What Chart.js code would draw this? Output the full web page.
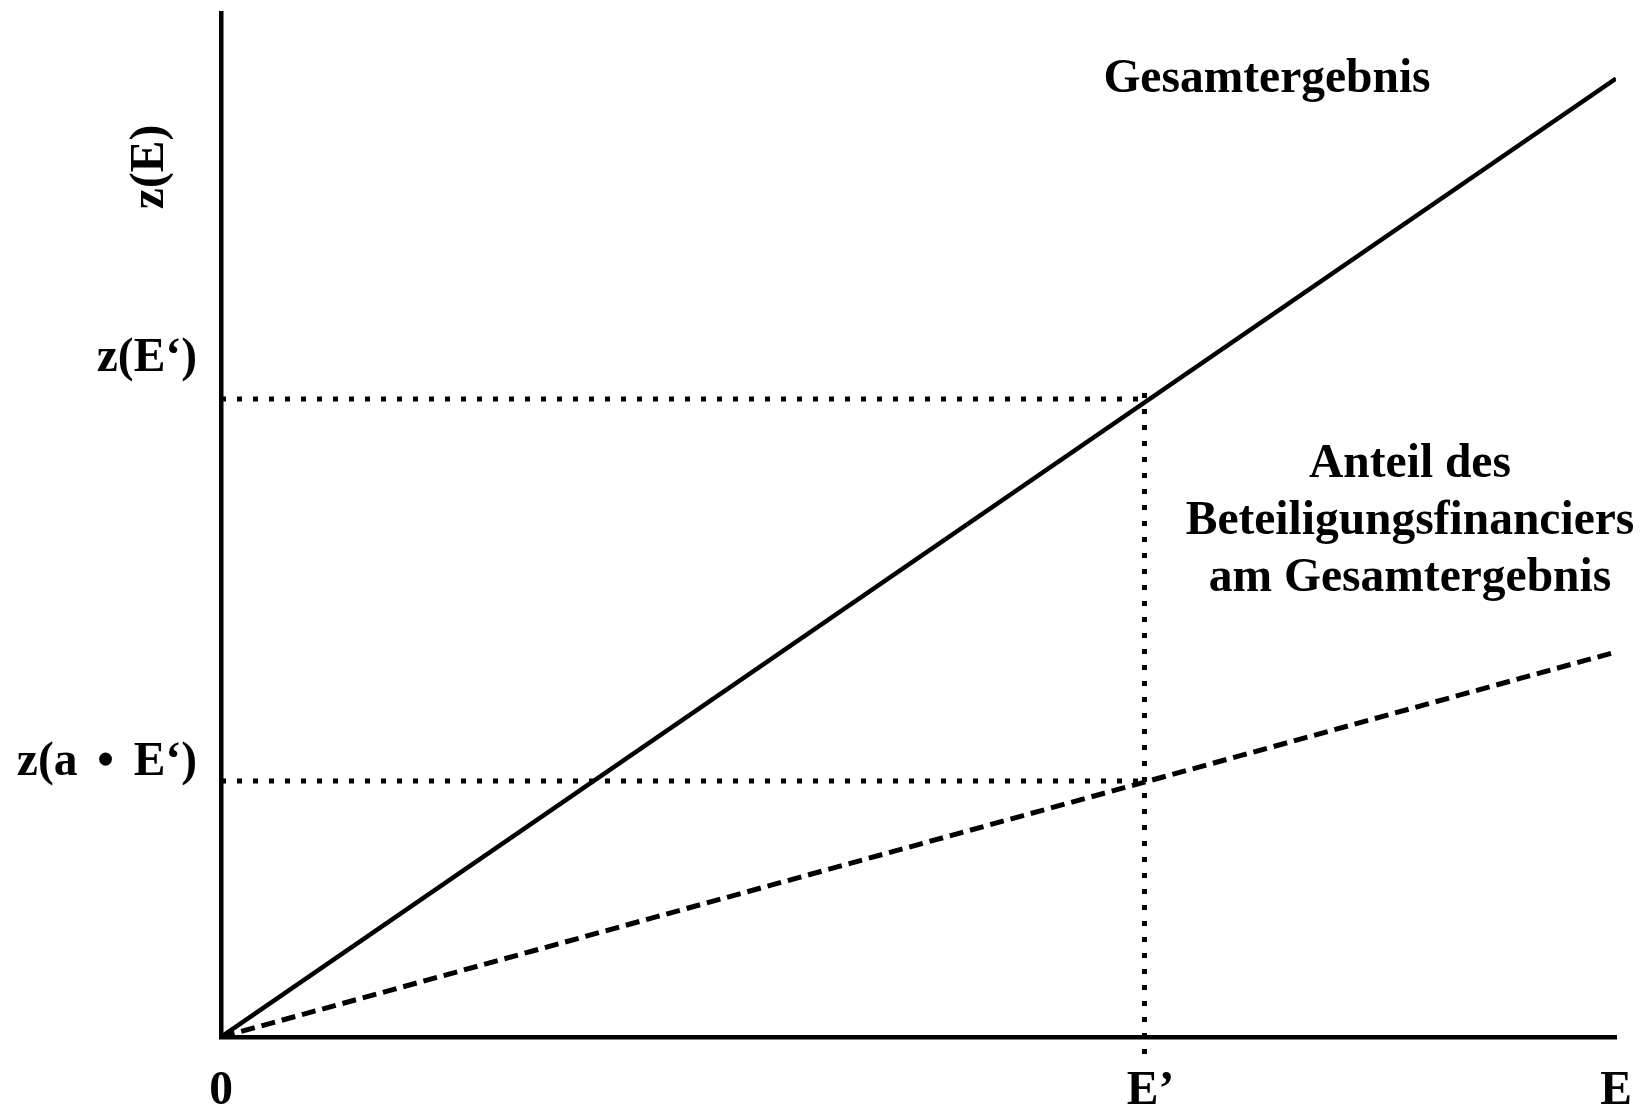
<!DOCTYPE html>
<html>
<head>
<meta charset="utf-8">
<script src="https://cdn.jsdelivr.net/npm/chart.js@4.4.1/dist/chart.umd.min.js"></script>
<style>
  html, body { margin: 0; padding: 0; background: #fff; }
  #wrap { width: 1649px; height: 1108px; }
</style>
</head>
<body>
<div id="wrap"><canvas id="chart"></canvas></div>
<script>
// Werte (E und z in willkuerlichen Einheiten)
const xRange = [0, 100];
const yRange = [0, 100];
const eStrich = 66.2;          // E'
const zEStrich = 62.3;         // z(E')
const zAEStrich = 25.0;        // z(a * E')
const gesamtX = [0, 100];
const gesamtY = [0, 93.6];
const anteilX = [0, 100];
const anteilY = [0, 37.6];
const xTickValues = [0, eStrich, 100];
const xTickLabels = ['0', 'E\u2019', 'E'];
const yTickValues = [zEStrich, zAEStrich];
const yTickLabels = ['z(E\u2018)', 'z(a \u2006\u2022 \u2006E\u2018)'];
const yTitle = 'z(E)';
const lineLabel1 = ['Gesamtergebnis'];
const lineLabel2 = ['Anteil des', 'Beteiligungsfinanciers', 'am Gesamtergebnis'];

const toPoints = (xs, ys) => xs.map((x, i) => ({ x: x, y: ys[i] }));

const FONT = 'bold 47.5px "Liberation Serif", "Times New Roman", serif';

// Beschriftungen direkt auf die Leinwand zeichnen
const textPlugin = {
    id: 'texte',
    afterDraw(chart) {
        const { ctx, chartArea } = chart;
        const xs = chart.scales.x;
        const ys = chart.scales.y;
        ctx.save();
        ctx.fillStyle = '#000';
        ctx.font = FONT;
        ctx.textBaseline = 'middle';

        // x-Achse
        ctx.textAlign = 'center';
        xTickValues.forEach((v, i) => {
            let px = xs.getPixelForValue(v);
            if (i === 1) px += 6;
            ctx.fillText(xTickLabels[i], px, chartArea.bottom + 55);
        });

        // y-Achse
        ctx.textAlign = 'right';
        const offsets = [-40, -18];
        yTickValues.forEach((v, i) => {
            ctx.fillText(yTickLabels[i], chartArea.left - 24, ys.getPixelForValue(v) + offsets[i]);
        });

        // Achsentitel, gedreht
        ctx.save();
        ctx.translate(chartArea.left - 70, 167);
        ctx.rotate(-Math.PI / 2);
        ctx.textAlign = 'center';
        ctx.fillText(yTitle, 0, 0);
        ctx.restore();

        // Linienbeschriftungen
        ctx.textAlign = 'center';
        lineLabel1.forEach((t, i) => ctx.fillText(t, 1267, 80 + i * 57));
        lineLabel2.forEach((t, i) => ctx.fillText(t, 1410, 465 + i * 57));
        ctx.restore();
    }
};

const dotted = {
    borderColor: '#000',
    borderWidth: 5,
    borderDash: [5, 11],
    borderCapStyle: 'butt',
    pointRadius: 0,
    fill: false,
    clip: false
};

new Chart(document.getElementById('chart'), {
    type: 'line',
    data: {
        datasets: [
            {
                label: lineLabel1[0],
                data: toPoints(gesamtX, gesamtY),
                borderColor: '#000',
                borderWidth: 4.5,
                pointRadius: 0,
                fill: false
            },
            {
                label: lineLabel2.join(' '),
                data: toPoints(anteilX, anteilY),
                borderColor: '#000',
                borderWidth: 5,
                borderDash: [14, 7],
                pointRadius: 0,
                fill: false
            },
            Object.assign({ label: 'h1', data: [{ x: 0, y: zEStrich }, { x: eStrich, y: zEStrich }] }, dotted),
            Object.assign({ label: 'h2', data: [{ x: 0, y: zAEStrich }, { x: eStrich, y: zAEStrich }] }, dotted),
            Object.assign({ label: 'v', data: [{ x: eStrich, y: zEStrich + 0.6 }, { x: eStrich, y: -2.3 }] }, dotted)
        ]
    },
    options: {
        responsive: true,
        maintainAspectRatio: false,
        animation: false,
        layout: { padding: { left: 221, right: 33, top: 13, bottom: 71 } },
        plugins: {
            legend: { display: false },
            tooltip: { enabled: false }
        },
        scales: {
            x: {
                type: 'linear',
                min: xRange[0],
                max: xRange[1],
                ticks: { display: false },
                grid: { display: false, drawTicks: false },
                border: { display: true, color: '#000', width: 4.5 }
            },
            y: {
                type: 'linear',
                min: yRange[0],
                max: yRange[1],
                ticks: { display: false },
                grid: { display: false, drawTicks: false },
                border: { display: true, color: '#000', width: 4.5 }
            }
        }
    },
    plugins: [textPlugin]
});
</script>
</body>
</html>
